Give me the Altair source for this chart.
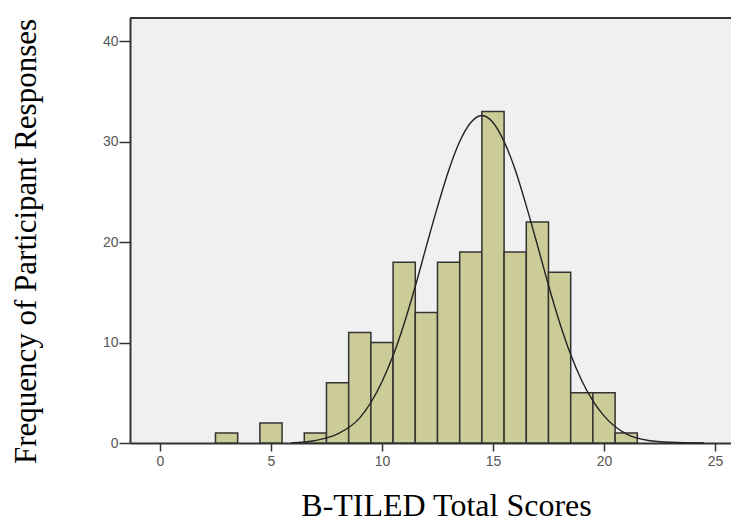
import altair as alt
import pandas as pd

# Histogram counts (bin centres are integer scores)
scores = [3, 5, 7, 8, 9, 10, 11, 12, 13, 14, 15, 16, 17, 18, 19, 20, 21]
counts = [1, 2, 1, 6, 11, 10, 18, 13, 18, 19, 33, 19, 22, 17, 5, 5, 1]

# Fitted normal curve
curve_x = [5.9, 7.0, 8.0, 9.0, 10.0, 10.5, 11.0, 11.5, 12.0, 12.5, 13.0, 13.5, 14.0,
           14.5, 15.0, 15.5, 16.0, 16.5, 17.0, 17.5, 18.0, 18.5, 19.0, 19.5, 20.0,
           21.0, 22.0, 23.0, 24.5]
curve_y = [0.0, 0.25, 0.9, 2.5, 6.1, 8.7, 11.9, 15.6, 19.6, 23.5, 27.1, 30.0, 31.9,
           32.6, 31.9, 30.0, 27.2, 23.6, 19.7, 15.7, 12.0, 8.8, 6.2, 4.2, 2.7,
           0.9, 0.25, 0.07, 0.0]

bars_df = pd.DataFrame({"score": scores, "count": counts})
curve_df = pd.DataFrame({"x": curve_x, "y": curve_y})

X_DOMAIN = [-1.35, 25.72]
Y_DOMAIN = [0, 42.3]
W, H = 601, 425

label_style = dict(labelFont="Liberation Sans", labelFontSize=14, labelColor="#555555",
                   domainColor="#333333", domainWidth=2, tickColor="#333333",
                   tickWidth=1.5, grid=False)

x_scale = alt.Scale(domain=X_DOMAIN, nice=False, zero=False)
y_scale = alt.Scale(domain=Y_DOMAIN, nice=False, zero=False)

bars = alt.Chart(bars_df).transform_calculate(
    lo="datum.score - 0.5", hi="datum.score + 0.5"
).mark_rect(fill="#cccc99", stroke="#333333", strokeWidth=1.5).encode(
    x=alt.X("lo:Q", scale=x_scale,
            axis=alt.Axis(values=[0, 5, 10, 15, 20, 25], tickSize=8, labelPadding=3,
                          title="B-TILED Total Scores", titleFont="Liberation Serif",
                          titleFontSize=32, titleFontWeight="normal", titleColor="#000000",
                          titleX=316, titleY=72, titleBaseline="alphabetic",
                          titleAlign="center", **label_style)),
    x2="hi:Q",
    y=alt.Y("count:Q", scale=y_scale,
            axis=alt.Axis(values=[0, 10, 20, 30, 40], tickSize=11, labelPadding=1,
                          title="Frequency of Participant Responses",
                          titleFont="Liberation Serif", titleFontSize=31,
                          titleFontWeight="normal", titleColor="#000000",
                          titleX=-95, titleY=223, titleAngle=-90,
                          titleBaseline="alphabetic", titleAlign="center",
                          **label_style)),
    y2=alt.datum(0),
)

curve = alt.Chart(curve_df).mark_line(color="#222222", strokeWidth=1.4,
                                      interpolate="monotone").encode(
    x=alt.X("x:Q", scale=x_scale),
    y=alt.Y("y:Q", scale=y_scale),
)

top_border = alt.Chart(curve_df).mark_rule(color="#333333", strokeWidth=2).encode(
    x=alt.datum(X_DOMAIN[0]),
    x2=alt.datum(X_DOMAIN[1]),
    y=alt.datum(Y_DOMAIN[1]),
)

chart = alt.layer(bars, curve, top_border).properties(
    width=W, height=H,
    autosize=alt.AutoSizeParams(type="none"),
    padding={"left": 122, "top": 10, "right": 0, "bottom": 80},
).configure_view(fill="#f0f0f0", stroke="transparent")

chart.save("out.html", embed_options={"renderer": "svg", "actions": False})
